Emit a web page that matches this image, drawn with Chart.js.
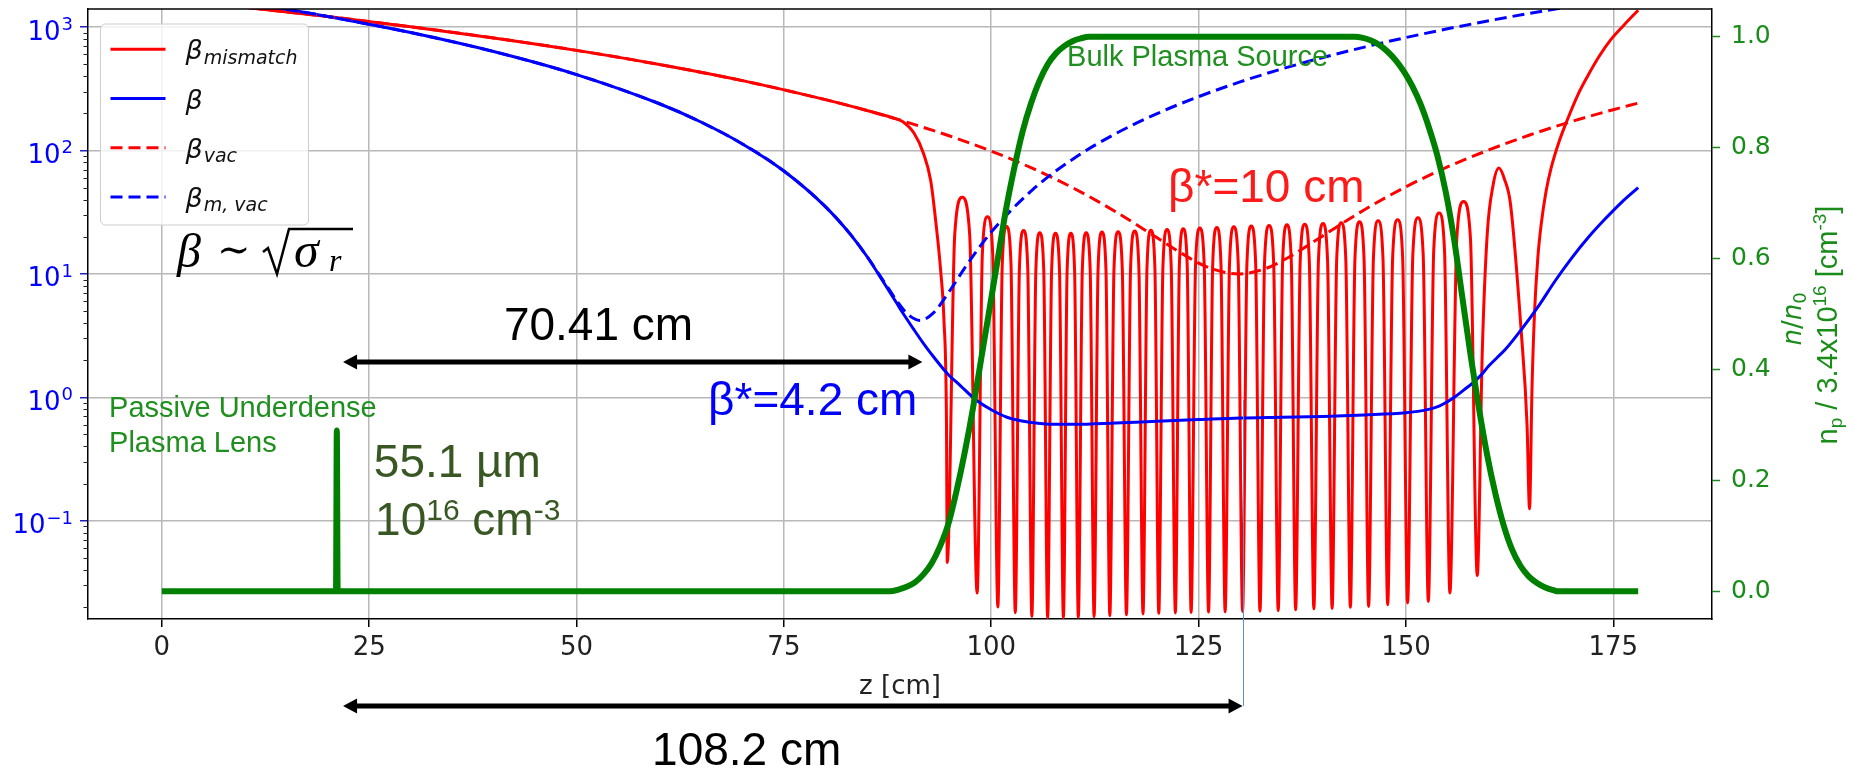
<!DOCTYPE html>
<html><head><meta charset="utf-8">
<script src="https://cdn.jsdelivr.net/npm/chart.js@4.4.1/dist/chart.umd.min.js"></script>
<style>html,body{margin:0;padding:0;background:#fff;overflow:hidden}#wrap{width:1854px;height:770px;position:relative}</style>
</head><body><div id="wrap"><canvas id="c" width="1854" height="770"></canvas></div>
<script>
// ---------------- data ----------------
const xTicks = [0, 25, 50, 75, 100, 125, 150, 175];
const yLogTicks = [0.1, 1, 10, 100, 1000];
const yLogExponents = ['\u22121', '0', '1', '2', '3'];
const y2Ticks = [0, 0.2, 0.4, 0.6, 0.8, 1.0];

// beta_mismatch (red solid)
const zMismatch = [0, 10, 20, 30, 40, 50, 60, 70, 80, 85, 88, 89.3, 90.7, 91.8, 92.7, 93.3, 93.9, 94.3, 94.6,
  94.7, 95.6, 96.5, 97.4, 98.3, 98.93, 99.55, 100.18, 100.8, 101.33, 101.85, 102.38,
  102.9, 103.4, 103.9, 104.4, 104.9, 105.38, 105.85, 106.33, 106.8, 107.28, 107.75, 108.23,
  108.7, 109.15, 109.6, 110.05, 110.5, 110.98, 111.45, 111.93, 112.4, 112.88, 113.35, 113.83,
  114.3, 114.8, 115.3, 115.8, 116.3, 116.8, 117.3, 117.8, 118.3, 118.78, 119.25, 119.73,
  120.2, 120.7, 121.2, 121.7, 122.2, 122.68, 123.15, 123.63, 124.1, 124.63, 125.15, 125.68,
  126.2, 126.7, 127.2, 127.7, 128.2, 128.73, 129.25, 129.78, 130.3, 130.83, 131.35, 131.88,
  132.4, 132.95, 133.5, 134.05, 134.6, 135.13, 135.65, 136.18, 136.7, 137.25, 137.8, 138.35,
  138.9, 139.45, 140.0, 140.55, 141.1, 141.65, 142.2, 142.75, 143.3, 143.85, 144.4, 144.95,
  145.5, 146.08, 146.65, 147.23, 147.8, 148.4, 149.0, 149.6, 150.2, 150.83, 151.45, 152.08,
  152.7, 153.35, 154.0, 154.65, 155.3, 156.13, 156.95, 157.78,
  158.6, 159.2, 159.8, 160.5, 161.2, 161.9, 162.6, 163.9, 164.6,
  164.9, 165.2, 165.5, 165.9, 166.3, 166.9, 167.5, 168.5, 169.5, 170.7, 171.9, 173.3, 174.7, 176.3, 178];
const betaMismatch = [1695, 1445, 1216, 1006, 816, 647, 497, 368, 258, 211, 185, 172, 138, 96, 57, 27, 10.7, 4.2, 0.66,
  0.046, 20.9, 41.8, 20.9, 0.026, 14.5, 29, 14.5, 0.02, 12.1, 24.2, 12.1,
  0.018, 11.25, 22.5, 11.25, 0.0168, 10.75, 21.5, 10.75, 0.0164, 10.65, 21.3, 10.65,
  0.0164, 10.65, 21.3, 10.65, 0.0165, 10.75, 21.5, 10.75, 0.0167, 10.9, 21.8, 10.9,
  0.017, 11, 22, 11, 0.0173, 11.15, 22.3, 11.15, 0.0176, 11.3, 22.6, 11.3,
  0.0178, 11.45, 22.9, 11.45, 0.0179, 11.6, 23.2, 11.6, 0.0181, 11.75, 23.5, 11.75,
  0.0182, 11.9, 23.8, 11.9, 0.0183, 12.05, 24.1, 12.05, 0.0184, 12.2, 24.4, 12.2,
  0.0185, 12.35, 24.7, 12.35, 0.0187, 12.5, 25, 12.5, 0.019, 12.65, 25.3, 12.65,
  0.0193, 12.8, 25.6, 12.8, 0.0195, 13, 26, 13, 0.0199, 13.2, 26.4, 13.2,
  0.0202, 13.45, 26.9, 13.45, 0.0209, 13.75, 27.5, 13.75, 0.0216, 14.25, 28.5, 14.25,
  0.0222, 15.6, 31.2, 15.6, 0.026, 19.3, 38.6, 19.3,
  0.036, 2.3, 21, 52, 72, 58, 37, 3.4, 0.6,
  0.125, 1.2, 4.8, 13.5, 25, 47, 72, 120, 180, 280, 400, 580, 790, 1040, 1370];

// beta (blue solid)
const zBeta = [0, 10, 20, 30, 40, 50, 60, 65, 70, 75, 80, 83, 85, 87, 88.5, 89.4, 90.6, 91.8, 92.7, 94.7,
  96.3, 98.1, 99.9, 101.9, 103.9, 105.9, 108, 110, 115, 120, 125, 130, 135, 140, 145, 150, 152, 154, 155, 156,
  157, 158, 159, 160, 161, 162, 164, 166, 168, 170, 172, 174, 176, 178];
const betaMatched = [1993, 1582, 1218, 902, 633, 412, 239, 170, 113, 68.2, 35.1, 21, 13.9, 8.6, 5.94, 4.75, 3.6, 2.75, 2.28, 1.56,
  1.24, 0.96, 0.80, 0.69, 0.64, 0.615, 0.605, 0.605, 0.62, 0.64, 0.66, 0.68, 0.69, 0.70, 0.72, 0.75, 0.78, 0.85, 0.92, 1.02,
  1.15, 1.3, 1.5, 1.8, 2.1, 2.45, 3.6, 5.5, 8.8, 13.5, 19.8, 27.8, 38, 50];

// beta_vac (red dashed)
const zVac = [0, 10, 20, 30, 40, 50, 60, 70, 80, 85, 90, 95, 100, 105, 110, 115, 120, 123, 126, 129.8, 133, 136,
  140, 145, 150, 155, 160, 165, 170, 175, 178];
const betaVac = [1695, 1445, 1216, 1006, 816, 647, 497, 368, 258, 211, 168, 131, 98.8, 71.5, 49.2, 31.9, 19.6, 14.6, 11.4, 10, 11.0, 13.8,
  20.4, 33.1, 50.8, 73.5, 101, 134, 172, 214, 242];

// beta_m,vac (blue dashed)
const zMVac = [0, 10, 15, 20, 30, 40, 50, 60, 65, 70, 75, 80, 83, 85, 87, 89, 90, 91.4, 93, 95,
  97, 100, 105, 110, 115, 120, 125, 130, 135, 140, 145, 150, 155, 160, 165, 170, 175];
const betaMVac = [1993, 1582, 1394, 1218, 902, 633, 412, 239, 170, 113, 68.2, 35.1, 21, 13.9, 8.8, 5.57, 4.67, 4.2, 4.81, 7.3,
  11.7, 21.8, 48.2, 86.6, 136.8, 199, 273, 359, 457, 567, 688, 822, 967, 1125, 1294, 1475, 1668];

// plasma density n/n0 (green, right axis)
const zDensity = [0, 21.0, 21.1, 21.2,
  87.8, 88.8, 89.8, 90.8, 91.8, 92.8, 93.8, 94.8, 95.8, 96.8, 97.8, 98.8, 99.8, 100.8, 101.8, 102.8, 103.8,
  104.8, 105.8, 106.8, 107.8, 108.8, 109.8, 110.8, 111.8, 112.8,
  143.8, 144.8, 145.8, 146.8, 147.8, 148.8, 149.8, 150.8, 151.8, 152.8, 153.8, 154.8, 155.8, 156.8, 157.8,
  158.8, 159.8, 160.8, 161.8, 162.8, 163.8, 164.8, 165.8, 166.8, 167.8, 168.3, 178];
const densityRatio = [0, 0, 0.29, 0,
  0, 0.003, 0.008, 0.016, 0.03, 0.05, 0.08, 0.12, 0.18, 0.25, 0.33, 0.42, 0.51, 0.6, 0.69, 0.765, 0.83,
  0.88, 0.92, 0.95, 0.97, 0.983, 0.992, 0.997, 1.0, 1.0,
  1.0, 0.998, 0.993, 0.985, 0.973, 0.957, 0.936, 0.91, 0.877, 0.835, 0.785, 0.72, 0.635, 0.53, 0.425,
  0.33, 0.245, 0.175, 0.118, 0.075, 0.046, 0.027, 0.015, 0.007, 0.002, 0, 0];

// ---------------- styling ----------------
const MPL = '"DejaVu Sans"';
const ARIAL = '"Liberation Sans", Arial';
const RED = '#ff0000', BLUE = '#0000ff', GREEN = '#008000', AXGREEN = '#1a8c1a';
const TXTGREEN = '#1f8f1f', OLIVE = '#385723';

const pts = (xs, ys) => xs.map((x, i) => ({x: x, y: ys[i]}));

function drawRuns(ctx, x, y, runs, color) {
  ctx.fillStyle = color; ctx.textAlign = 'left'; ctx.textBaseline = 'alphabetic';
  let cx = x;
  for (const r of runs) { ctx.font = r.f; ctx.fillText(r.t, cx, y + (r.dy || 0)); cx += ctx.measureText(r.t).width + (r.gap || 0); }
  return cx - x;
}
function runsWidth(ctx, runs) {
  let w = 0;
  for (const r of runs) { ctx.font = r.f; w += ctx.measureText(r.t).width + (r.gap || 0); }
  return w;
}
function arrowH(ctx, x1, x2, y, hl, hw) {
  ctx.setLineDash([]);
  ctx.strokeStyle = '#000'; ctx.fillStyle = '#000'; ctx.lineWidth = 5;
  ctx.beginPath(); ctx.moveTo(x1 + hl - 1, y); ctx.lineTo(x2 - hl + 1, y); ctx.stroke();
  ctx.beginPath(); ctx.moveTo(x1, y); ctx.lineTo(x1 + hl, y - hw); ctx.lineTo(x1 + hl, y + hw); ctx.closePath(); ctx.fill();
  ctx.beginPath(); ctx.moveTo(x2, y); ctx.lineTo(x2 - hl, y - hw); ctx.lineTo(x2 - hl, y + hw); ctx.closePath(); ctx.fill();
}

const overlay = {
  id: 'overlay',
  afterDraw(chart) {
    const {ctx, chartArea: a, scales} = chart;
    const X = scales.x, Y = scales.y, Y2 = scales.y2;
    ctx.save();
    // top spine
    ctx.strokeStyle = '#000'; ctx.lineWidth = 1.5; ctx.setLineDash([]);
    ctx.beginPath(); ctx.moveTo(a.left, a.top); ctx.lineTo(a.right, a.top); ctx.stroke();
    // minor log ticks
    ctx.lineWidth = 1; ctx.strokeStyle = '#222';
    for (let e = -2; e <= 3; e++) for (let k = 2; k <= 9; k++) {
      const v = k * Math.pow(10, e);
      if (v < Y.min || v > Y.max) continue;
      const py = Math.round(Y.getPixelForValue(v)) + 0.5;
      ctx.beginPath(); ctx.moveTo(a.left - 4.5, py); ctx.lineTo(a.left, py); ctx.stroke();
    }
    // left tick labels 10^n
    yLogTicks.forEach((v, i) => {
      const py = Y.getPixelForValue(v);
      const runs = [{t: '10', f: `26px ${MPL}`, gap: 1}, {t: yLogExponents[i], f: `18px ${MPL}`, dy: -9.5}];
      const w = runsWidth(ctx, runs);
      drawRuns(ctx, a.left - 15 - w, py + 12.5, runs, BLUE);
    });
    // right axis title (two rotated lines)
    const line1 = [{t: 'n', f: `italic 26px ${MPL}`}, {t: '/', f: `26px ${MPL}`}, {t: 'n', f: `italic 26px ${MPL}`}, {t: '0', f: `18px ${MPL}`, dy: 5}];
    const line2 = [{t: 'n', f: `29px ${ARIAL}`}, {t: 'p', f: `19px ${ARIAL}`, dy: 5}, {t: ' / 3.4x10', f: `29px ${ARIAL}`},
      {t: '16', f: `19px ${ARIAL}`, dy: -11}, {t: ' [cm', f: `29px ${ARIAL}`}, {t: '-3', f: `19px ${ARIAL}`, dy: -11}, {t: ']', f: `29px ${ARIAL}`}];
    [[line1, a.right + 89, 319], [line2, a.right + 125, 325]].forEach(([runs, bx, cy]) => {
      ctx.save(); ctx.translate(bx, cy); ctx.rotate(-Math.PI / 2);
      const w = runsWidth(ctx, runs); drawRuns(ctx, -w / 2, 0, runs, AXGREEN); ctx.restore();
    });

    // annotation: focus marker line (thin blue)
    const xf = X.getPixelForValue(130.3);
    ctx.strokeStyle = '#5b8fd4'; ctx.lineWidth = 1;
    ctx.beginPath(); ctx.moveTo(Math.round(xf) + 0.5, Y.getPixelForValue(0.951)); ctx.lineTo(Math.round(xf) + 0.5, a.bottom + 87); ctx.stroke();
    // arrows
    arrowH(ctx, X.getPixelForValue(21.85), X.getPixelForValue(91.7), Y.getPixelForValue(1.93), 14, 7.5);
    arrowH(ctx, X.getPixelForValue(21.85), X.getPixelForValue(130.3), a.bottom + 87, 14, 7.5);

    // annotation texts
    ctx.font = `46px ${ARIAL}`;
    const t70 = '70.41 cm', w70 = ctx.measureText(t70).width;
    drawRuns(ctx, X.getPixelForValue(52.65) - w70 / 2, Y.getPixelForValue(2.91), [{t: t70, f: `46px ${ARIAL}`}], '#000');
    drawRuns(ctx, X.getPixelForValue(59.35) - 2, a.bottom + 146, [{t: '108.2 cm', f: `46px ${ARIAL}`}], '#000');
    drawRuns(ctx, X.getPixelForValue(66.1) - 2, Y.getPixelForValue(0.719), [{t: 'β*=4.2 cm', f: `46px ${ARIAL}`}], BLUE);
    drawRuns(ctx, X.getPixelForValue(121.56) - 2, Y.getPixelForValue(38.2), [{t: 'β*=10 cm', f: `46px ${ARIAL}`}], '#ff1a1a');
    drawRuns(ctx, X.getPixelForValue(109.26) - 1, Y2.getPixelForValue(0.947), [{t: 'Bulk Plasma Source', f: `29px ${ARIAL}`}], TXTGREEN);
    drawRuns(ctx, X.getPixelForValue(-6.24) - 1, Y.getPixelForValue(0.693), [{t: 'Passive Underdense', f: `29px ${ARIAL}`}], TXTGREEN);
    drawRuns(ctx, X.getPixelForValue(-6.24) - 1, Y.getPixelForValue(0.360), [{t: 'Plasma Lens', f: `29px ${ARIAL}`}], TXTGREEN);
    drawRuns(ctx, X.getPixelForValue(25.8) - 2, Y.getPixelForValue(0.226), [{t: '55.1 µm', f: `46px ${ARIAL}`}], OLIVE);
    drawRuns(ctx, X.getPixelForValue(26.07) - 3, Y.getPixelForValue(0.0767), [
      {t: '10', f: `46px ${ARIAL}`}, {t: '16', f: `30px ${ARIAL}`, dy: -15}, {t: ' cm', f: `46px ${ARIAL}`}, {t: '-3', f: `30px ${ARIAL}`, dy: -15}], OLIVE);

    // beta ~ sqrt(sigma_r)
    const bx = X.getPixelForValue(1.83), by = Y.getPixelForValue(11.37);
    drawRuns(ctx, bx, by, [{t: 'β', f: `italic 48px "Liberation Serif"`}], '#000');
    drawRuns(ctx, bx + 40, by - 4, [{t: '∼', f: `40px "DejaVu Serif"`}], '#000');
    ctx.strokeStyle = '#000'; ctx.lineWidth = 2.5; ctx.lineJoin = 'miter';
    ctx.beginPath(); ctx.moveTo(bx + 86, by - 15); ctx.lineTo(bx + 91, by - 19); ctx.lineTo(bx + 100, by + 7);
    ctx.lineTo(bx + 112, by - 38); ctx.lineTo(bx + 176, by - 38); ctx.stroke();
    drawRuns(ctx, bx + 117, by, [{t: 'σ', f: `italic 50px "Liberation Serif"`}], '#000');
    drawRuns(ctx, bx + 152, by + 4, [{t: 'r', f: `italic 32px "Liberation Serif"`}], '#000');

    // legend
    const lx = a.left + 12.5, ly = a.top + 15, lw = 208, lh = 201;
    ctx.fillStyle = 'rgba(255,255,255,0.8)'; ctx.strokeStyle = '#cccccc'; ctx.lineWidth = 1;
    ctx.beginPath(); ctx.roundRect(lx, ly, lw, lh, 5); ctx.fill(); ctx.stroke();
    const entries = [[RED, [], 'mismatch'], [BLUE, [], ''], [RED, [12, 6], 'vac'], [BLUE, [12, 6], 'm, vac']];
    entries.forEach(([col, dash, sub], i) => {
      const yy = ly + 25.3 + i * 49.2;
      ctx.strokeStyle = col; ctx.lineWidth = 3; ctx.setLineDash(dash); ctx.lineCap = 'butt';
      ctx.beginPath(); ctx.moveTo(lx + 10, yy); ctx.lineTo(lx + 65, yy); ctx.stroke();
      ctx.setLineDash([]);
      const runs = [{t: 'β', f: `italic 27px ${MPL}`, gap: 1}];
      if (sub) runs.push({t: sub, f: `italic 19px ${MPL}`, dy: 4.5});
      drawRuns(ctx, lx + 85, yy + 10, runs, '#111');
    });
    ctx.restore();
  }
};

const chart = new Chart(document.getElementById('c'), {
  type: 'line',
  data: {
    datasets: [
      {label: 'n/n0', data: pts(zDensity, densityRatio), yAxisID: 'y2', borderColor: GREEN, borderWidth: 6, order: 0, cubicInterpolationMode: 'monotone'},
      {label: 'beta_m,vac', data: pts(zMVac, betaMVac), yAxisID: 'y', borderColor: BLUE, borderWidth: 3, borderDash: [12, 6], order: 1, cubicInterpolationMode: 'monotone'},
      {label: 'beta_vac', data: pts(zVac, betaVac), yAxisID: 'y', borderColor: RED, borderWidth: 3, borderDash: [12, 6], order: 2, cubicInterpolationMode: 'monotone'},
      {label: 'beta', data: pts(zBeta, betaMatched), yAxisID: 'y', borderColor: BLUE, borderWidth: 3, order: 3, cubicInterpolationMode: 'monotone'},
      {label: 'beta_mismatch', data: pts(zMismatch, betaMismatch), yAxisID: 'y', borderColor: RED, borderWidth: 3, order: 4, cubicInterpolationMode: 'monotone'}
    ]
  },
  options: {
    responsive: false, animation: false, devicePixelRatio: 1,
    layout: {padding: {top: 9, left: 0, right: 0, bottom: 0}, autoPadding: false},
    plugins: {legend: {display: false}, tooltip: {enabled: false}},
    elements: {point: {radius: 0}, line: {borderJoinStyle: 'round', borderCapStyle: 'butt', fill: false}},
    scales: {
      x: {
        type: 'linear', position: 'bottom', min: -8.9, max: 186.9,
        afterBuildTicks: s => { s.ticks = xTicks.map(v => ({value: v})); },
        afterFit: s => { s.height = 151; s.paddingLeft = 0; s.paddingRight = 0; },
        grid: {color: '#b8b8b8', lineWidth: 1.5, tickLength: 8, tickColor: '#000', tickWidth: 1.5},
        border: {display: true, color: '#000', width: 1.5},
        ticks: {color: '#222', font: {family: 'DejaVu Sans', size: 26}, padding: 6, maxRotation: 0, autoSkip: false, callback: v => String(v)},
        title: {display: true, text: 'z [cm]', color: '#222', font: {family: 'DejaVu Sans', size: 26}, padding: {top: 0, bottom: 67}}
      },
      y: {
        type: 'logarithmic', position: 'left', min: 0.016, max: 1400,
        afterBuildTicks: s => { s.ticks = yLogTicks.map(v => ({value: v, major: true})); },
        afterFit: s => { s.width = 88; s.paddingTop = 0; s.paddingBottom = 0; },
        grid: {color: '#b8b8b8', lineWidth: 1.5, tickLength: 8, tickColor: '#2020c0', tickWidth: 1.5},
        border: {display: true, color: '#000', width: 1.5},
        ticks: {display: false}
      },
      y2: {
        type: 'linear', position: 'right', min: -0.05, max: 1.05,
        afterBuildTicks: s => { s.ticks = y2Ticks.map(v => ({value: v})); },
        afterFit: s => { s.width = 142; s.paddingTop = 0; s.paddingBottom = 0; },
        grid: {drawOnChartArea: false, tickLength: 8, tickColor: AXGREEN, tickWidth: 1.5},
        border: {display: true, color: '#000', width: 1.5},
        ticks: {color: AXGREEN, font: {family: 'DejaVu Sans', size: 25}, padding: 11, callback: v => Number(v).toFixed(1)}
      }
    }
  },
  plugins: [overlay]
});
</script>
</body></html>
